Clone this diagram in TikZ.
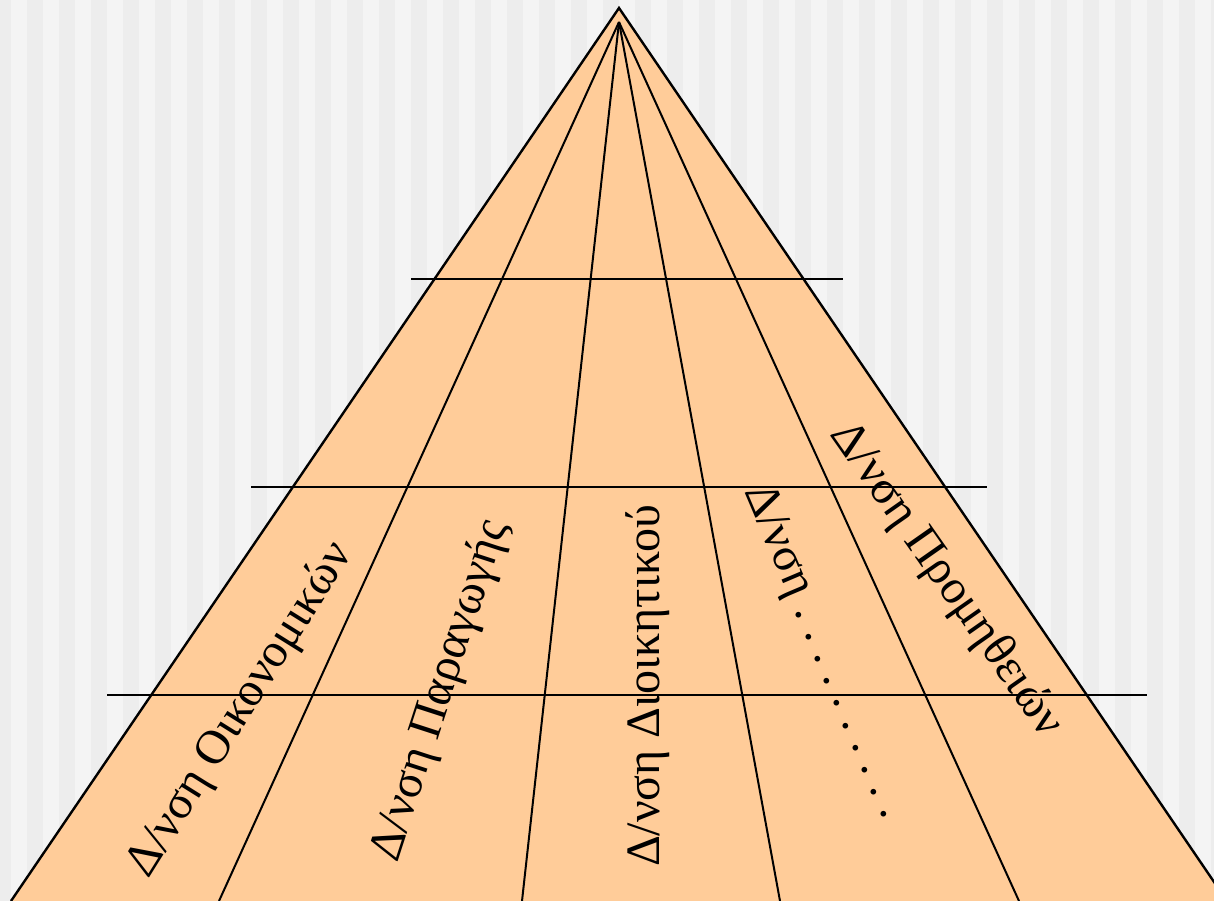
\documentclass[tikz,border=0pt]{standalone}
\usepackage{fontspec}
\setmainfont{Liberation Serif}
\definecolor{stripedark}{HTML}{EDEDED}
\definecolor{stripelight}{HTML}{F4F4F4}
\definecolor{peach}{HTML}{FFCC99}
\tikzset{
  edge/.style={draw=black, line width=2.4pt},
  divider/.style={draw=black, line width=2pt},
  level/.style={draw=black, line width=2.2pt},
  dept/.style={inner sep=0pt, font=\fontsize{48}{56}\selectfont\frenchspacing}
}
\begin{document}
\begin{tikzpicture}[x=1pt,y=-1pt]
\useasboundingbox (0,0) rectangle (1214,901);
\clip (0,0) rectangle (1214,901);
% striped background
\fill[stripedark] (0,0) rectangle (1214,901);
\foreach \i in {0,...,37} {
  \fill[stripelight] ({11+32*\i},0) rectangle ({27+32*\i},901);
}
% pyramid
\coordinate (apex) at (619,8);
\coordinate (hub) at (619,22);
\coordinate (bl) at (11,901);
\coordinate (br) at (1227,901);
\fill[peach] (apex) -- (bl) -- (br) -- cycle;
% vertical dividers
\coordinate (d1) at (219,901);
\coordinate (d2) at (522,901);
\coordinate (d3) at (780,901);
\coordinate (d4) at (1019,901);
\foreach \d in {d1,d2,d3,d4} { \draw[divider] (hub) -- (\d); }
% horizontal levels
\coordinate (h1a) at (411,279); \coordinate (h1b) at (843,279);
\coordinate (h2a) at (251,487); \coordinate (h2b) at (987,487);
\coordinate (h3a) at (107,695); \coordinate (h3b) at (1147,695);
\draw[level] (h1a) -- (h1b);
\draw[level] (h2a) -- (h2b);
\draw[level] (h3a) -- (h3b);
% outline
\draw[edge, line join=miter] (bl) -- (apex) -- (br);
% labels
\node[dept, rotate=58] (oik) at (241,710) {Δ/νση Οικονομικών};
\node[dept, rotate=72] (par) at (441,691) {Δ/νση Παραγωγής};
\node[dept, rotate=90] (dio) at (648,686) {Δ/νση Διοικητικού};
\node[dept, rotate=-67] (oth) at (824,652) {Δ/νση . . . . . . . . . .};
\node[dept, rotate=-55] (pro) at (946,580) {Δ/νση Προμηθειών};
\end{tikzpicture}
\end{document}
